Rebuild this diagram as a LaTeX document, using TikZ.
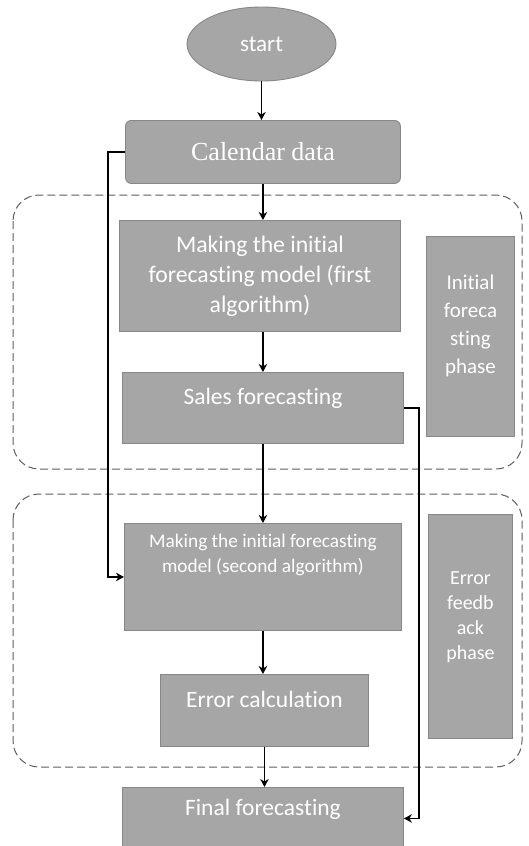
\documentclass[tikz,border=0pt]{standalone}
\usepackage{fontspec}
\setmainfont{Carlito}[Ligatures=NoCommon]
\newfontfamily\timesf{Liberation Serif}
\usetikzlibrary{shapes.geometric,arrows.meta}
\definecolor{boxfill}{RGB}{166,166,166}
\definecolor{boxline}{RGB}{135,135,135}
\definecolor{dashc}{RGB}{95,95,95}
\begin{document}
\begin{tikzpicture}[x=1pt,y=-1pt,
 box/.style={draw=boxline, fill=boxfill, line width=0.9pt, inner sep=0pt, text=white, align=center, anchor=north west, font=\fontsize{23.5}{30}\selectfont},
 arr/.style={-{Stealth[length=8pt,width=8.5pt,inset=2.5pt]}, line width=1.2pt, black},
 phase/.style={draw=dashc, dash pattern=on 8pt off 4pt, line width=1pt, rounded corners=26pt},
 lbl/.style={text=white, align=center, inner sep=0pt}]
\clip (0,0) rectangle (528,846);
\fill[white] (0,0) rectangle (528,846);
% phase frames
\draw[phase] (13,195) rectangle (522,469);
\draw[phase] (13,494) rectangle (522,767);
% nodes
\node[ellipse, draw=boxline, fill=boxfill, line width=0.9pt, minimum width=149pt, minimum height=74pt, inner sep=0pt, text=white, font=\fontsize{23}{26}\selectfont] (start) at (261.5,44) {start};
\node[box, minimum width=275pt, minimum height=63pt, rounded corners=6pt, font=\timesf\fontsize{26}{30}\selectfont] (cal) at (125,120) {Calendar data};
\node[box, minimum width=281pt, minimum height=111pt, font=\fontsize{23.7}{30}\selectfont] (alg1) at (119,220) {Making the initial\\forecasting model (first\\algorithm)};
\node[box, minimum width=281pt, text height=32pt, text depth=39pt] (sales) at (122,372) {Sales forecasting};
\node[box, minimum width=88pt, minimum height=200pt] (side1) at (426,236) {};
\node[lbl, font=\fontsize{21}{28}\selectfont] (side1t) at ([yshift=11pt]side1.center) {Initial\\foreca\\sting\\phase};
\node[box, minimum width=277pt, minimum height=107pt] (alg2) at (124,523) {};
\node[lbl, anchor=north, font=\fontsize{19.3}{25}\selectfont] (alg2t) at ([yshift=-11pt]alg2.north) {Making the initial forecasting\\model (second algorithm)};
\node[box, minimum width=208pt, text height=33pt, text depth=39pt] (err) at (160,674) {Error calculation};
\node[box, minimum width=84pt, minimum height=224pt] (side2) at (428,514) {};
\node[lbl, font=\fontsize{20}{25}\selectfont] (side2t) at ([yshift=9pt]side2.center) {Error\\feedb\\ack\\phase};
\node[box, minimum width=281pt, text height=28pt, text depth=34pt] (final) at (122,787) {Final forecasting};
% connectors
\draw[arr] (start.south) -- (start.south |- cal.north);
\draw[arr] (cal.south) -- (cal.south |- alg1.north);
\draw[arr] (alg1.south -| cal.south) -- (cal.south |- sales.north);
\draw[arr] (sales.south) -- (sales.south |- alg2.north);
\draw[arr] (alg2.south) -- (alg2.south |- err.north);
\draw[arr] (err.south) -- (err.south |- final.north);
\draw[arr] (cal.west) -- ++(-17,0) |- (alg2.west);
\draw[arr] (sales.east) -- ++(15,0) |- (final.east);
\end{tikzpicture}
\end{document}
